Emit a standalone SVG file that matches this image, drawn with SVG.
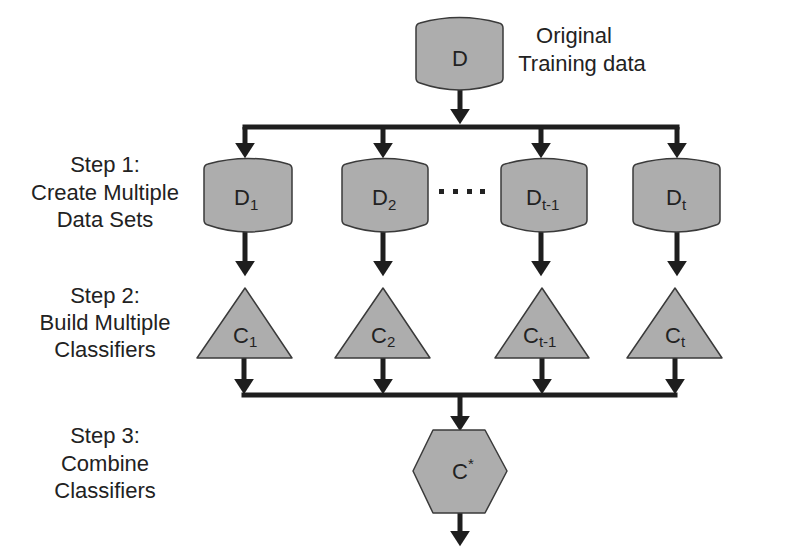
<svg xmlns="http://www.w3.org/2000/svg" width="805" height="551" viewBox="0 0 805 551">
<defs>
<style>
.shape{fill:#adadad;stroke:#3a3a3a;stroke-width:1.5;stroke-linejoin:round;}
.lbl{font-family:"Liberation Sans",Arial,sans-serif;font-size:22px;fill:#222;text-anchor:middle;}
.nl{font-family:"Liberation Sans",Arial,sans-serif;font-size:22px;fill:#222;}
.sub{font-size:15px;}
.conn{stroke:#1e1e1e;stroke-width:5;fill:none;}
.dot{fill:#222;}
</style>
<marker id="ah" markerUnits="userSpaceOnUse" markerWidth="16" markerHeight="20" viewBox="0 0 14 18" refX="2" refY="9" orient="auto">
<path d="M0,0 L14,9 L0,18 Z" fill="#1e1e1e"/>
</marker>
</defs>
<rect width="805" height="551" fill="#fff"/>

<g id="connectors">
<line class="conn" x1="460" y1="90" x2="460" y2="111" marker-end="url(#ah)"/>
<path class="conn" d="M245,127 H677" stroke-linecap="square"/>
<line class="conn" x1="245" y1="127" x2="245" y2="145" marker-end="url(#ah)"/>
<line class="conn" x1="383" y1="127" x2="383" y2="145" marker-end="url(#ah)"/>
<line class="conn" x1="541" y1="127" x2="541" y2="145" marker-end="url(#ah)"/>
<line class="conn" x1="677" y1="127" x2="677" y2="145" marker-end="url(#ah)"/>
<line class="conn" x1="245" y1="232" x2="245" y2="263" marker-end="url(#ah)"/>
<line class="conn" x1="383" y1="232" x2="383" y2="263" marker-end="url(#ah)"/>
<line class="conn" x1="541" y1="232" x2="541" y2="263" marker-end="url(#ah)"/>
<line class="conn" x1="677" y1="232" x2="677" y2="263" marker-end="url(#ah)"/>
<line class="conn" x1="244" y1="358" x2="244" y2="381" marker-end="url(#ah)"/>
<line class="conn" x1="383" y1="358" x2="383" y2="381" marker-end="url(#ah)"/>
<line class="conn" x1="542" y1="358" x2="542" y2="381" marker-end="url(#ah)"/>
<line class="conn" x1="675" y1="358" x2="675" y2="381" marker-end="url(#ah)"/>
<path class="conn" d="M244,395 H675" stroke-linecap="square"/>
<line class="conn" x1="460" y1="395" x2="460" y2="418" marker-end="url(#ah)"/>
<line class="conn" x1="460" y1="513" x2="460" y2="533" marker-end="url(#ah)"/>
</g>

<g id="D">
<path class="shape" d="M416,28 Q416,24 420,23 Q459.5,12 499,23 Q503,24 503,28 L503,78 Q503,82 499,83 Q459.5,97 420,83 Q416,82 416,78 Z"/>
<text class="lbl" x="460" y="66">D</text>
</g>
<g id="label-original">
<text class="lbl" x="574" y="43">Original</text>
<text class="lbl" x="582" y="71">Training data</text>
</g>

<g id="D1">
<path class="shape" d="M204,169 Q204,165 208,164 Q248,153 288,164 Q292,165 292,169 L292,220 Q292,224 288,225 Q248,239 208,225 Q204,224 204,220 Z"/>
<text class="nl" x="234" y="205">D<tspan class="sub" dy="5">1</tspan></text>
</g>
<g id="D2">
<path class="shape" d="M342,169 Q342,165 346,164 Q385,153 424,164 Q428,165 428,169 L428,220 Q428,224 424,225 Q385,239 346,225 Q342,224 342,220 Z"/>
<text class="nl" x="372" y="205">D<tspan class="sub" dy="5">2</tspan></text>
</g>
<g id="dots">
<rect class="dot" x="439" y="189" width="5" height="5"/>
<rect class="dot" x="453" y="189" width="5" height="5"/>
<rect class="dot" x="467" y="189" width="5" height="5"/>
<rect class="dot" x="480" y="189" width="5" height="5"/>
</g>
<g id="Dt-1">
<path class="shape" d="M501,169 Q501,165 505,164 Q544,153 583,164 Q587,165 587,169 L587,220 Q587,224 583,225 Q544,239 505,225 Q501,224 501,220 Z"/>
<text class="nl" x="526" y="205">D<tspan class="sub" dy="5">t-1</tspan></text>
</g>
<g id="Dt">
<path class="shape" d="M633,169 Q633,165 637,164 Q676.5,153 716,164 Q720,165 720,169 L720,220 Q720,224 716,225 Q676.5,239 637,225 Q633,224 633,220 Z"/>
<text class="nl" x="666" y="205">D<tspan class="sub" dy="5">t</tspan></text>
</g>

<g id="C1">
<polygon class="shape" points="245,288 292,358 197,358"/>
<text class="nl" x="233" y="343">C<tspan class="sub" dy="4">1</tspan></text>
</g>
<g id="C2">
<polygon class="shape" points="383,288 430,358 335,358"/>
<text class="nl" x="371" y="343">C<tspan class="sub" dy="4">2</tspan></text>
</g>
<g id="Ct-1">
<polygon class="shape" points="542,288 589,358 495,358"/>
<text class="nl" x="523" y="343">C<tspan class="sub" dy="4">t-1</tspan></text>
</g>
<g id="Ct">
<polygon class="shape" points="675,288 722,358 627,358"/>
<text class="nl" x="665" y="343">C<tspan class="sub" dy="4">t</tspan></text>
</g>

<g id="Cstar">
<polygon class="shape" points="413,471 433,430 485,430 507,471 485,513 433,513"/>
<text class="nl" x="452" y="479">C<tspan class="sub" dy="-10">*</tspan></text>
</g>

<g id="step-labels">
<text class="lbl" x="105" y="172">Step 1:</text>
<text class="lbl" x="105" y="200">Create Multiple</text>
<text class="lbl" x="105" y="227">Data Sets</text>
<text class="lbl" x="105" y="303">Step 2:</text>
<text class="lbl" x="105" y="330">Build Multiple</text>
<text class="lbl" x="105" y="357">Classifiers</text>
<text class="lbl" x="105" y="443">Step 3:</text>
<text class="lbl" x="105" y="471">Combine</text>
<text class="lbl" x="105" y="498">Classifiers</text>
</g>
</svg>
